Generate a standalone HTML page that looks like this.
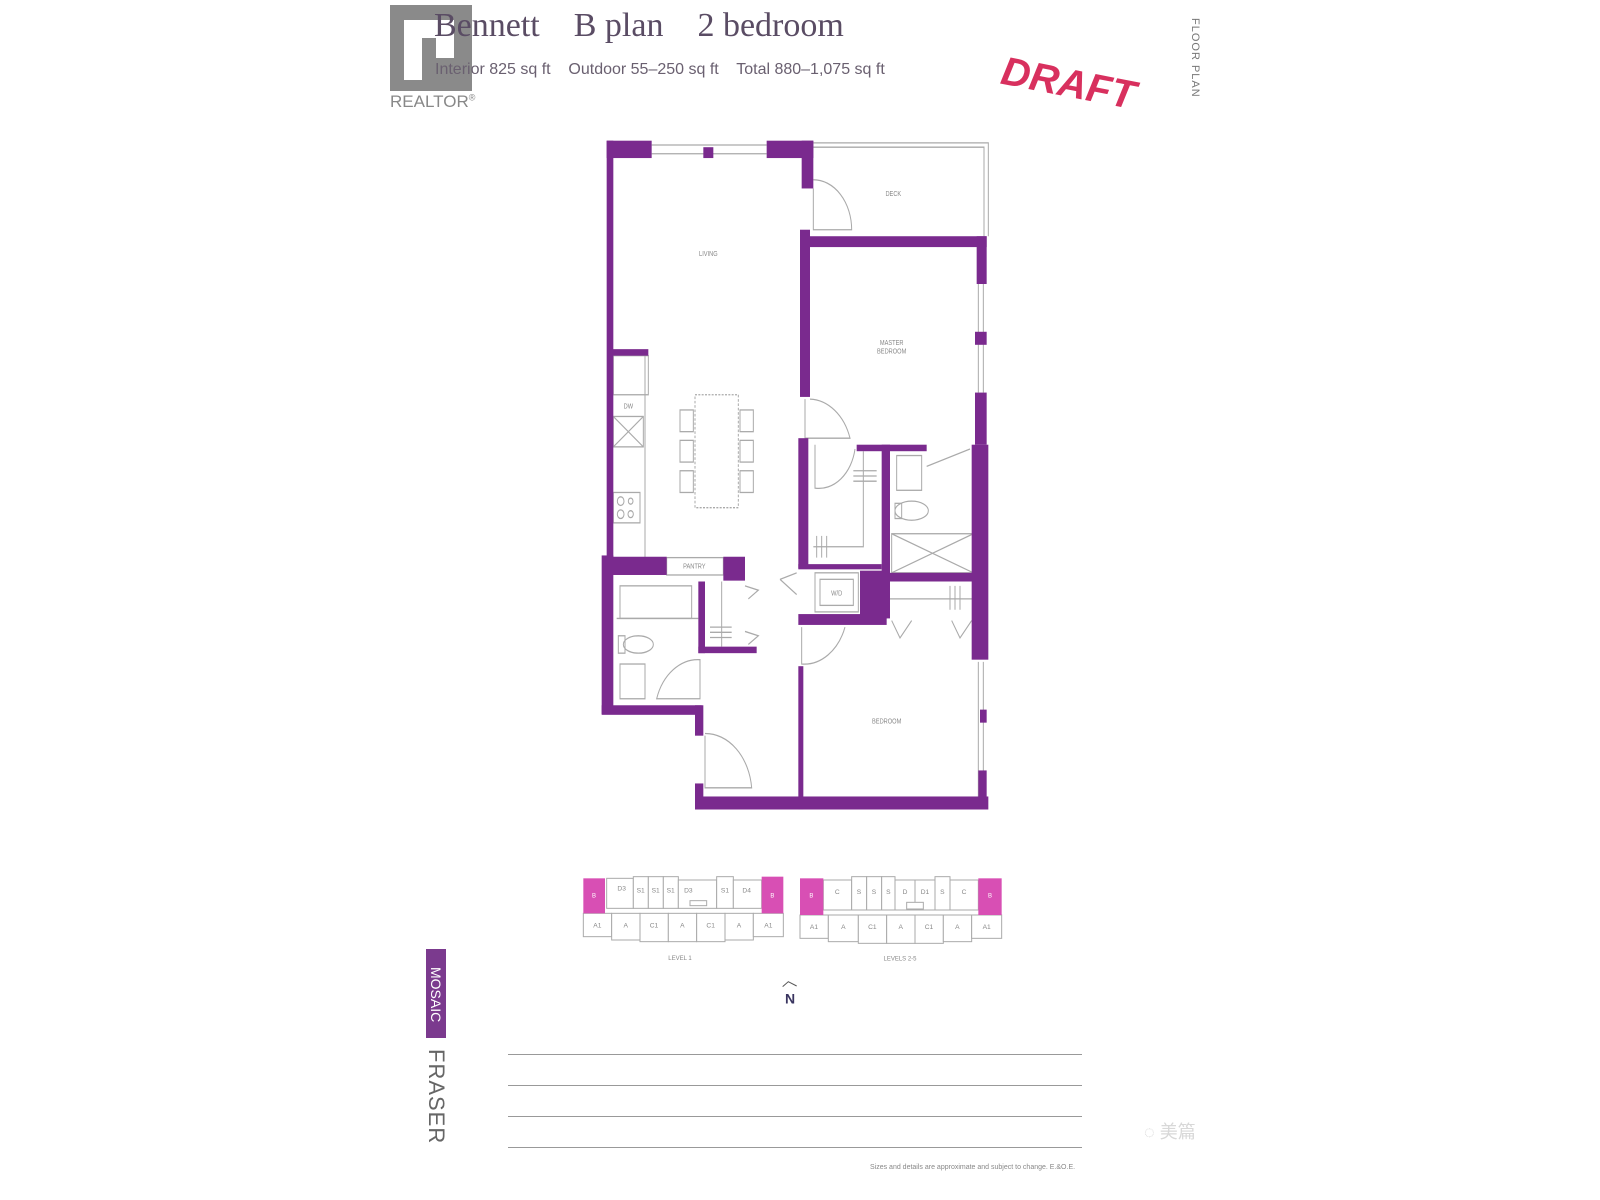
<!DOCTYPE html>
<html><head><meta charset="utf-8">
<style>
html,body{margin:0;padding:0;background:#fff;}
body{width:1600px;height:1200px;position:relative;overflow:hidden;font-family:"Liberation Sans",sans-serif;}
.abs{position:absolute;}
</style></head><body>

<!-- realtor logo -->
<div class="abs" style="left:390px;top:5px;width:82px;height:86px;background:#8a8a8a;"></div>
<div class="abs" style="left:404px;top:20px;width:18px;height:60px;background:#fff;"></div>
<div class="abs" style="left:404px;top:20px;width:50px;height:18px;background:#fff;"></div>
<div class="abs" style="left:436px;top:20px;width:18px;height:38px;background:#fff;"></div>
<div class="abs" style="left:390px;top:92px;font-size:17px;color:#888;">REALTOR<sup style="font-size:9px">®</sup></div>

<!-- title -->
<div class="abs" style="left:434px;top:7px;font-family:'Liberation Serif',serif;font-size:34px;color:#5a4c64;white-space:pre;">Bennett    B plan    2 bedroom</div>
<div class="abs" style="left:435px;top:61px;font-size:16px;color:#6a6070;white-space:pre;">Interior 825 sq ft    Outdoor 55–250 sq ft    Total 880–1,075 sq ft</div>

<!-- DRAFT -->
<div class="abs" style="left:1006px;top:49px;font-size:40px;font-weight:bold;font-style:italic;color:#d8305e;transform:rotate(11deg);transform-origin:left top;">DRAFT</div>

<!-- floor plan vertical -->
<div class="abs" style="left:1189px;top:18px;font-size:11px;color:#777;writing-mode:vertical-rl;letter-spacing:1px;">FLOOR PLAN</div>

<!-- floor plan -->
<svg class="abs" style="left:580px;top:132px" width="420" height="899" viewBox="0 0 1260 2070" preserveAspectRatio="none">
<g fill="none" stroke="#aaa" stroke-width="3">
  <line x1="215" y1="30" x2="560" y2="30"/><line x1="215" y1="50" x2="560" y2="50"/>
  <path d="M700 25 H1225 V240"/><path d="M700 35 H1212 V240"/>
  <line x1="1195" y1="350" x2="1195" y2="600"/><line x1="1210" y1="350" x2="1210" y2="600"/>
  <line x1="1195" y1="1220" x2="1195" y2="1530"/><line x1="1210" y1="1220" x2="1210" y2="1530"/>
  <line x1="195" y1="515" x2="195" y2="980"/>
  <rect x="100" y="515" width="105" height="90"/>
  <rect x="100" y="655" width="90" height="70"/><line x1="100" y1="655" x2="190" y2="725"/><line x1="190" y1="655" x2="100" y2="725"/>
  <rect x="100" y="830" width="80" height="70"/>
  <circle cx="122" cy="850" r="10"/><circle cx="152" cy="850" r="7"/><circle cx="122" cy="880" r="10"/><circle cx="152" cy="880" r="8"/>
  <rect x="345" y="605" width="130" height="260" stroke-dasharray="6 4"/>
  <rect x="300" y="640" width="40" height="50"/><rect x="300" y="710" width="40" height="50"/><rect x="300" y="780" width="40" height="50"/>
  <rect x="480" y="640" width="40" height="50"/><rect x="480" y="710" width="40" height="50"/><rect x="480" y="780" width="40" height="50"/>
  <path d="M700 130 V225 H815 A115 115 0 0 0 700 110"/>
  <path d="M675 615 V705 H810 A130 130 0 0 0 690 615"/>
  <path d="M705 720 V820 A110 110 0 0 0 825 730"/>
  <path d="M1040 770 L1170 730"/>
  <path d="M665 1140 V1225 A130 130 0 0 0 795 1140"/>
  <path d="M230 1305 A130 130 0 0 1 360 1215 V1305Z"/>
  <path d="M375 1390 V1510 H515 A140 140 0 0 0 375 1385"/>
  <path d="M850 735 V955 H700"/>
  <line x1="820" y1="780" x2="890" y2="780"/><line x1="820" y1="792" x2="890" y2="792"/><line x1="820" y1="804" x2="890" y2="804"/>
  <line x1="710" y1="930" x2="710" y2="980"/><line x1="725" y1="930" x2="725" y2="980"/><line x1="740" y1="930" x2="740" y2="980"/>
  <rect x="950" y="745" width="75" height="80"/>
  <ellipse cx="995" cy="872" rx="50" ry="22"/><rect x="945" y="855" width="20" height="35"/>
  <rect x="935" y="925" width="245" height="90"/><line x1="935" y1="925" x2="1180" y2="1015"/><line x1="1180" y1="925" x2="935" y2="1015"/>
  <rect x="705" y="1015" width="130" height="90"/><rect x="720" y="1030" width="100" height="60"/>
  <line x1="925" y1="1075" x2="1185" y2="1075"/>
  <line x1="1110" y1="1045" x2="1110" y2="1100"/><line x1="1125" y1="1045" x2="1125" y2="1100"/><line x1="1140" y1="1045" x2="1140" y2="1100"/>
  <path d="M935 1125 L960 1165 L995 1125"/><path d="M1115 1125 L1140 1165 L1175 1125"/>
  <path d="M600 1030 L650 1015 M600 1030 L650 1065"/>
  <line x1="425" y1="1035" x2="425" y2="1185"/>
  <line x1="390" y1="1140" x2="455" y2="1140"/><line x1="390" y1="1152" x2="455" y2="1152"/><line x1="390" y1="1164" x2="455" y2="1164"/>
  <path d="M495 1045 L535 1055 L505 1075"/><path d="M495 1150 L535 1160 L505 1180"/>
  <rect x="120" y="1045" width="215" height="75"/>
  <ellipse cx="175" cy="1180" rx="45" ry="20"/><rect x="115" y="1160" width="20" height="40"/>
  <rect x="120" y="1225" width="75" height="80"/>
  <line x1="355" y1="1120" x2="110" y2="1120"/>
  <rect x="260" y="980" width="170" height="40"/>
</g>
<g fill="#7a2a8e">
  <rect x="80" y="20" width="135" height="40"/><rect x="370" y="35" width="30" height="25"/>
  <rect x="560" y="20" width="140" height="40"/><rect x="665" y="20" width="35" height="110"/>
  <rect x="80" y="20" width="20" height="960"/>
  <rect x="65" y="975" width="35" height="365"/>
  <rect x="95" y="500" width="110" height="15"/>
  <rect x="80" y="978" width="180" height="42"/><rect x="430" y="978" width="65" height="55"/>
  <rect x="65" y="1320" width="300" height="22"/>
  <rect x="345" y="1320" width="25" height="70"/>
  <rect x="345" y="1500" width="25" height="60"/>
  <rect x="345" y="1530" width="880" height="30"/>
  <rect x="355" y="1035" width="20" height="165"/><rect x="355" y="1185" width="175" height="15"/>
  <rect x="655" y="1230" width="15" height="330"/>
  <rect x="655" y="1110" width="265" height="25"/>
  <rect x="660" y="225" width="30" height="385"/>
  <rect x="655" y="705" width="30" height="300"/>
  <rect x="655" y="995" width="250" height="12"/>
  <rect x="905" y="720" width="25" height="400"/>
  <rect x="830" y="720" width="210" height="15"/>
  <rect x="840" y="1010" width="80" height="110"/>
  <rect x="930" y="1015" width="290" height="20"/>
  <rect x="665" y="240" width="555" height="25"/>
  <rect x="1190" y="240" width="30" height="110"/>
  <rect x="1185" y="460" width="35" height="30"/>
  <rect x="1185" y="600" width="35" height="120"/>
  <rect x="1175" y="720" width="50" height="495"/>
  <rect x="1200" y="1330" width="20" height="30"/>
  <rect x="1195" y="1470" width="25" height="75"/>
</g>
<g fill="#888" font-family="Liberation Sans,sans-serif" font-size="17" text-anchor="middle">
  <text x="385" y="285">LIVING</text>
  <text x="940" y="147">DECK</text>
  <text x="935" y="490">MASTER</text><text x="935" y="510">BEDROOM</text>
  <text x="920" y="1362">BEDROOM</text>
  <text x="343" y="1005">PANTRY</text>
  <text x="145" y="637">DW</text>
  <text x="770" y="1067">W/D</text>
</g>
</svg>

<!-- key plans -->
<svg class="abs" style="left:570px;top:860px" width="450" height="150" viewBox="0 0 1350 450">
<g fill="#fff" stroke="#aaa" stroke-width="3">
  <rect x="110" y="55" width="80" height="90"/><rect x="190" y="50" width="45" height="95"/><rect x="235" y="50" width="45" height="95"/><rect x="280" y="50" width="45" height="95"/><rect x="325" y="60" width="115" height="85"/><rect x="440" y="50" width="50" height="95"/><rect x="490" y="60" width="85" height="85"/>
  <rect x="40" y="160" width="85" height="70"/><rect x="125" y="160" width="85" height="80"/><rect x="210" y="160" width="85" height="85"/><rect x="295" y="160" width="85" height="85"/><rect x="380" y="160" width="85" height="85"/><rect x="465" y="160" width="85" height="80"/><rect x="550" y="160" width="90" height="70"/>
  <rect x="760" y="60" width="85" height="90"/><rect x="845" y="50" width="45" height="100"/><rect x="890" y="50" width="45" height="100"/><rect x="935" y="50" width="40" height="100"/><rect x="975" y="60" width="60" height="90"/><rect x="1035" y="60" width="60" height="90"/><rect x="1095" y="50" width="45" height="100"/><rect x="1140" y="60" width="85" height="90"/>
  <rect x="690" y="165" width="85" height="70"/><rect x="775" y="165" width="90" height="80"/><rect x="865" y="165" width="85" height="85"/><rect x="950" y="165" width="85" height="85"/><rect x="1035" y="165" width="85" height="85"/><rect x="1120" y="165" width="85" height="80"/><rect x="1205" y="165" width="90" height="70"/>
  <rect x="360" y="122" width="50" height="15"/><rect x="1010" y="127" width="50" height="20"/>
</g>
<g fill="#d84fb4"><rect x="40" y="55" width="65" height="105"/><rect x="575" y="50" width="65" height="110"/><rect x="690" y="55" width="70" height="110"/><rect x="1225" y="55" width="70" height="110"/></g>
<g fill="#888" font-family="Liberation Sans,sans-serif" font-size="20" text-anchor="middle">
  <text x="155" y="92">D3</text><text x="212" y="97">S1</text><text x="257" y="97">S1</text><text x="302" y="97">S1</text><text x="355" y="97">D3</text><text x="465" y="97">S1</text><text x="530" y="97">D4</text>
  <text x="82" y="202">A1</text><text x="167" y="202">A</text><text x="252" y="202">C1</text><text x="337" y="202">A</text><text x="422" y="202">C1</text><text x="507" y="202">A</text><text x="595" y="202">A1</text>
  <text x="802" y="102">C</text><text x="867" y="102">S</text><text x="912" y="102">S</text><text x="955" y="102">S</text><text x="1005" y="102">D</text><text x="1065" y="102">D1</text><text x="1117" y="102">S</text><text x="1182" y="102">C</text>
  <text x="732" y="207">A1</text><text x="820" y="207">A</text><text x="907" y="207">C1</text><text x="992" y="207">A</text><text x="1077" y="207">C1</text><text x="1162" y="207">A</text><text x="1250" y="207">A1</text>
  <text x="330" y="300" font-size="18">LEVEL 1</text><text x="990" y="302" font-size="18">LEVELS 2-5</text>
</g>
<g fill="#fff" font-family="Liberation Sans,sans-serif" font-size="18" text-anchor="middle"><text x="72" y="112">B</text><text x="607" y="112">B</text><text x="724" y="112">B</text><text x="1260" y="112">B</text></g>
<path d="M638 380 L655 365 L680 378" fill="none" stroke="#555" stroke-width="3"/>
<text x="660" y="430" fill="#3a3560" font-family="Liberation Sans,sans-serif" font-weight="bold" font-size="42" text-anchor="middle">N</text>
</svg>

<!-- brand -->
<div class="abs" style="left:426px;top:949px;width:20px;height:89px;background:#7b3a8e;"></div>
<div class="abs" style="left:426px;top:952px;width:20px;height:86px;color:#fff;font-size:14px;writing-mode:vertical-rl;text-align:center;line-height:20px;">MOSAIC</div>
<div class="abs" style="left:424px;top:1049px;width:24px;color:#666;font-size:22px;writing-mode:vertical-rl;line-height:24px;letter-spacing:1px;">FRASER</div>

<!-- lines -->
<div class="abs" style="left:508px;top:1054px;width:574px;height:1px;background:#999;"></div>
<div class="abs" style="left:508px;top:1085px;width:574px;height:1px;background:#999;"></div>
<div class="abs" style="left:508px;top:1116px;width:574px;height:1px;background:#999;"></div>
<div class="abs" style="left:508px;top:1147px;width:574px;height:1px;background:#999;"></div>
<div class="abs" style="left:870px;top:1164px;font-size:7px;color:#888;white-space:nowrap;">Sizes and details are approximate and subject to change. E.&amp;O.E.</div>
<div class="abs" style="left:1144px;top:1118px;font-size:18px;color:#d8d8d8;font-family:'Liberation Sans','Noto Sans CJK SC',sans-serif;">◌ 美篇</div>
</body></html>
